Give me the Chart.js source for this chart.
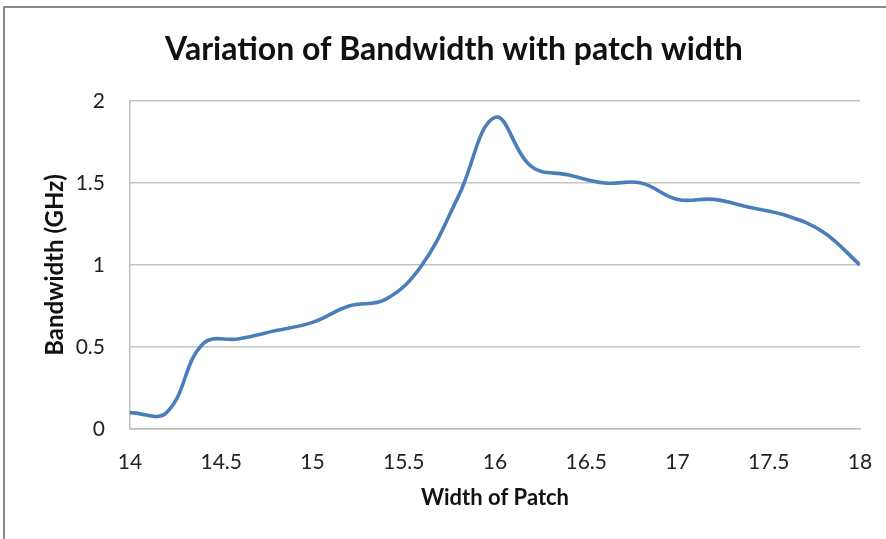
<!DOCTYPE html>
<html>
<head>
<meta charset="utf-8">
<script src="https://cdn.jsdelivr.net/npm/chart.js@4"></script>
<style>
  html, body { margin: 0; padding: 0; background: #fff; }
  #wrap { position: relative; width: 886px; height: 539px; overflow: hidden; }
  #frame { position: absolute; left: 3px; top: 6px; width: 900px; height: 600px;
           border-left: 2px solid #8a8a8a; border-top: 2px solid #8a8a8a; pointer-events: none; }
  canvas { position: absolute; left: 0; top: 0; }
</style>
</head>
<body>
<div id="wrap">
  <canvas id="c" width="886" height="539"></canvas>
  <div id="frame"></div>
</div>
<script>
// Data
const patchWidth = [14, 14.2, 14.4, 14.6, 14.8, 15, 15.2, 15.4, 15.6, 15.8, 16, 16.2, 16.4, 16.6, 16.8, 17, 17.2, 17.4, 17.6, 17.8, 18];
const bandwidth  = [0.1, 0.1, 0.52, 0.55, 0.6, 0.65, 0.75, 0.79, 1.0, 1.42, 1.9, 1.6, 1.55, 1.5, 1.5, 1.4, 1.4, 1.35, 1.3, 1.2, 1.0];
const xTicks = [14, 14.5, 15, 15.5, 16, 16.5, 17, 17.5, 18];
const yTicks = [0, 0.5, 1, 1.5, 2];

const chartTitle = 'Variation of Bandwidth with patch width';
const xTitle = 'Width of Patch';
const yTitle = 'Bandwidth (GHz)';

const points = patchWidth.map((x, i) => ({ x: x, y: bandwidth[i] }));
const FONT = 'Lato, "Open Sans", sans-serif';

const titlePlugin = {
  id: 'mainTitle',
  afterDraw(chart) {
    const ctx = chart.ctx;
    ctx.save();
    ctx.font = 'bold 32px ' + FONT;
    ctx.fillStyle = '#111';
    ctx.textAlign = 'center';
    ctx.textBaseline = 'alphabetic';
    ctx.fillText(chartTitle, 454, 60);
    ctx.restore();
  }
};

new Chart(document.getElementById('c'), {
  type: 'line',
  data: {
    datasets: [{
      data: points,
      borderColor: '#4A7EBB',
      borderWidth: 3.6,
      pointRadius: 0,
      tension: 0.4,
      fill: false
    }]
  },
  options: {
    responsive: false,
    animation: false,
    devicePixelRatio: 1,
    layout: { padding: { left: 0, right: 26, top: 101, bottom: 0 } },
    plugins: {
      legend: { display: false },
      tooltip: { enabled: false },
      title: { display: false }
    },
    scales: {
      x: {
        type: 'linear',
        min: 14, max: 18,
        afterBuildTicks: (s) => { s.ticks = xTicks.map(v => ({ value: v })); },
        afterFit: (s) => { s.height = 110; },
        grid: { display: false },
        border: { display: true, color: '#bdbdbd', width: 1.5 },
        ticks: { color: '#222', font: { family: FONT, size: 21 }, padding: 13, maxRotation: 0,
                 callback: (v) => String(v) },
        title: { display: true, text: xTitle, color: '#111',
                 font: { family: FONT, size: 22, weight: 'bold', lineHeight: 1.2 },
                 padding: { top: 0, bottom: 28 } }
      },
      y: {
        min: 0, max: 2,
        afterBuildTicks: (s) => { s.ticks = yTicks.map(v => ({ value: v })); },
        afterFit: (s) => { s.width = 130; },
        grid: { color: '#c4c4c4', lineWidth: 1.5, drawTicks: false },
        border: { display: true, color: '#bdbdbd', width: 1.5 },
        ticks: { color: '#222', font: { family: FONT, size: 21 }, padding: 25,
                 callback: (v) => String(v) },
        title: { display: true, text: yTitle, color: '#111',
                 font: { family: FONT, size: 24, weight: 'bold', lineHeight: 1.2 },
                 padding: { top: 41, bottom: 0 } }
      }
    }
  },
  plugins: [titlePlugin]
});
</script>
</body>
</html>
